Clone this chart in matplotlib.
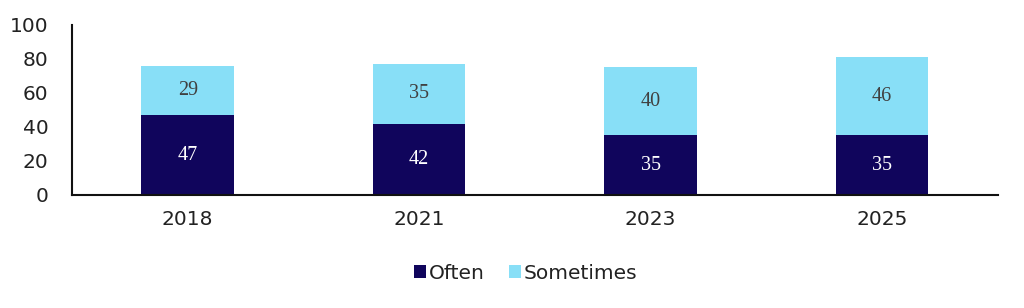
import matplotlib.pyplot as plt
import numpy as np

years = ['2018', '2021', '2023', '2025']
often = [47, 42, 35, 35]
sometimes = [29, 35, 40, 46]
y_ticks = [0, 20, 40, 60, 80, 100]

DARK = '#10055C'
LIGHT = '#88DFF7'

fig = plt.figure(figsize=(10.24, 3.08), dpi=100)
ax = fig.add_axes([0.0703, 0.367, 0.904, 0.552])

x = np.arange(len(years))
width = 0.4
ax.bar(x, often, width, color=DARK, label='Often')
ax.bar(x, sometimes, width, bottom=often, color=LIGHT, label='Sometimes')

for xi, o, s in zip(x, often, sometimes):
    ax.text(xi, o / 2, str(o), ha='center', va='center', color='white',
            fontsize=14.5, family='Liberation Serif')
    ax.text(xi, o + s / 2, str(s), ha='center', va='center', color='#404040',
            fontsize=14.5, family='Liberation Serif')

ax.set_xlim(-0.5, 3.5)
ax.set_ylim(0, 100)
ax.set_yticks(y_ticks)
ax.set_xticks(x)
ax.set_xticklabels(years)
ax.tick_params(axis='both', length=0, labelsize=14.5, colors='#222222')
ax.tick_params(axis='y', pad=17)
ax.tick_params(axis='x', pad=11)
for sp in ['top', 'right']:
    ax.spines[sp].set_visible(False)
for sp in ['left', 'bottom']:
    ax.spines[sp].set_linewidth(1.5)
    ax.spines[sp].set_color('#111111')

ax.legend(loc='center', bbox_to_anchor=(0.49, -0.46), ncol=2, frameon=False,
          fontsize=14.5, handlelength=0.6, handleheight=0.6, handletextpad=0.15,
          columnspacing=1.2, labelcolor='#222222')

fig.savefig('out.png', dpi=100)
